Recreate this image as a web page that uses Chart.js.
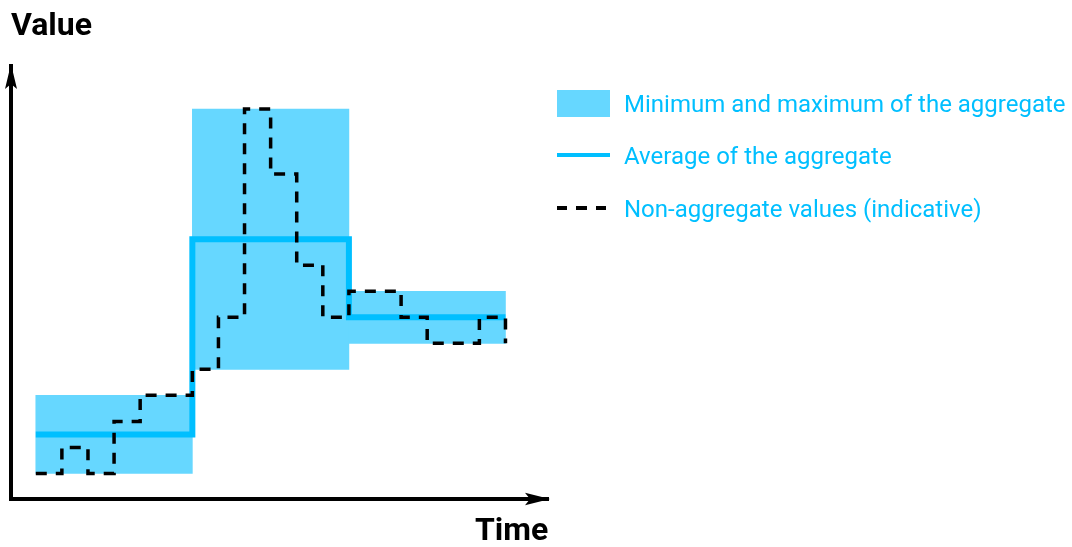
<!DOCTYPE html>
<html>
<head>
<meta charset="utf-8">
<script src="https://cdn.jsdelivr.net/npm/chart.js@4.4.0/dist/chart.umd.min.js"></script>
<style>
  html, body { margin: 0; padding: 0; background: #fff; }
  #wrap { position: relative; width: 1072px; height: 547px; overflow: hidden; font-family: Roboto, "Noto Sans", sans-serif; }
  #c { position: absolute; left: 0; top: 0; }
  .title { position: absolute; font-weight: 700; font-size: 32px; line-height: 32px; color: #000; white-space: nowrap; }
  .leg { position: absolute; font-size: 24px; line-height: 24px; color: #00BFFF; white-space: nowrap; }
  .sw { position: absolute; }
</style>
</head>
<body>
<div id="wrap">
  <canvas id="c" width="1072" height="547"></canvas>
  <div class="title" style="left:11px; top:8px;">Value</div>
  <div class="title" style="left:475px; top:513px;">Time</div>

  <div class="sw" style="left:557px; top:90px; width:53px; height:27px; background:#66d7ff;"></div>
  <div class="leg" style="left:624px; top:92px;">Minimum and maximum of the aggregate</div>

  <div class="sw" style="left:557px; top:153px; width:53px; height:4px; background:#00BFFF;"></div>
  <div class="leg" style="left:624px; top:144px;">Average of the aggregate</div>

  <div class="sw" style="left:557px; top:206px; width:49px; height:4px; background:repeating-linear-gradient(to right,#000 0 10px,transparent 10px 19.5px);"></div>
  <div class="leg" style="left:624px; top:197px;">Non-aggregate values (indicative)</div>
</div>
<script>
// ---- data ----
const groupCenter = [4, 10, 16];      // centre (time) of each aggregate interval
const groupMin    = [1, 5, 6];
const groupMax    = [4, 15, 8];
const avgTime     = [1, 7, 13, 19];   // interval boundaries
const avgValues   = [2.5, 10, 7, 7];
const rawTime     = [1, 2, 3, 4, 5, 6, 7, 8, 9, 10, 11, 12, 13, 14, 15, 16, 17, 18, 19];
const rawValues   = [1, 2, 1, 3, 4, 4, 5, 7, 15, 12.5, 9, 7, 8, 8, 7, 6, 6, 7, 6];

const barData = groupCenter.map((x, i) => ({ x: x, y: [groupMin[i], groupMax[i]] }));
const avgData = avgTime.map((x, i) => ({ x: x, y: avgValues[i] }));
const rawData = rawTime.map((x, i) => ({ x: x, y: rawValues[i] }));

const arrows = {
  id: 'arrows',
  afterDraw(chart) {
    const { ctx, chartArea: a } = chart;
    ctx.save();
    ctx.fillStyle = '#000';
    // y axis arrow
    ctx.beginPath();
    ctx.moveTo(a.left, a.top - 2);
    ctx.lineTo(a.left + 6, a.top + 23);
    ctx.lineTo(a.left, a.top + 18);
    ctx.lineTo(a.left - 6, a.top + 23);
    ctx.closePath();
    ctx.fill();
    // x axis arrow
    ctx.beginPath();
    ctx.moveTo(a.right + 2, a.bottom);
    ctx.lineTo(a.right - 23, a.bottom - 6.3);
    ctx.lineTo(a.right - 18, a.bottom);
    ctx.lineTo(a.right - 23, a.bottom + 6.3);
    ctx.closePath();
    ctx.fill();
    ctx.restore();
  }
};

function axis(extra) {
  return Object.assign({
    display: true,
    ticks: { display: false },
    grid: { display: false, drawTicks: false, offset: false },
    border: { display: true, color: '#000', width: 4 },
    afterBuildTicks: (scale) => { scale.ticks = [{ value: scale.min }]; }
  }, extra);
}

new Chart(document.getElementById('c'), {
  type: 'line',
  data: {
    datasets: [
      {
        label: 'Non-aggregate values (indicative)',
        type: 'line',
        data: rawData,
        stepped: 'before',
        borderColor: '#000',
        borderWidth: 3.5,
        borderDash: [11, 9],
        borderCapStyle: 'butt',
        borderJoinStyle: 'miter',
        pointRadius: 0,
        fill: false,
        order: 0
      },
      {
        label: 'Average of the aggregate',
        type: 'line',
        data: avgData,
        stepped: 'before',
        borderColor: '#00BFFF',
        borderWidth: 6,
        borderCapStyle: 'butt',
        borderJoinStyle: 'miter',
        pointRadius: 0,
        fill: false,
        order: 1
      },
      {
        label: 'Minimum and maximum of the aggregate',
        type: 'bar',
        data: barData,
        backgroundColor: '#66d7ff',
        borderWidth: 0,
        barPercentage: 1,
        categoryPercentage: 1,
        order: 2
      }
    ]
  },
  options: {
    responsive: false,
    animation: false,
    events: [],
    layout: { padding: { left: 11, top: 66, right: 524, bottom: 48 } },
    scales: {
      x: axis({ type: 'linear', min: 0.05, max: 20.63, offset: false }),
      y: axis({ type: 'linear', min: 0.02, max: 16.65, beginAtZero: false })
    },
    plugins: { legend: { display: false }, tooltip: { enabled: false }, title: { display: false } }
  },
  plugins: [arrows]
});
</script>
</body>
</html>
